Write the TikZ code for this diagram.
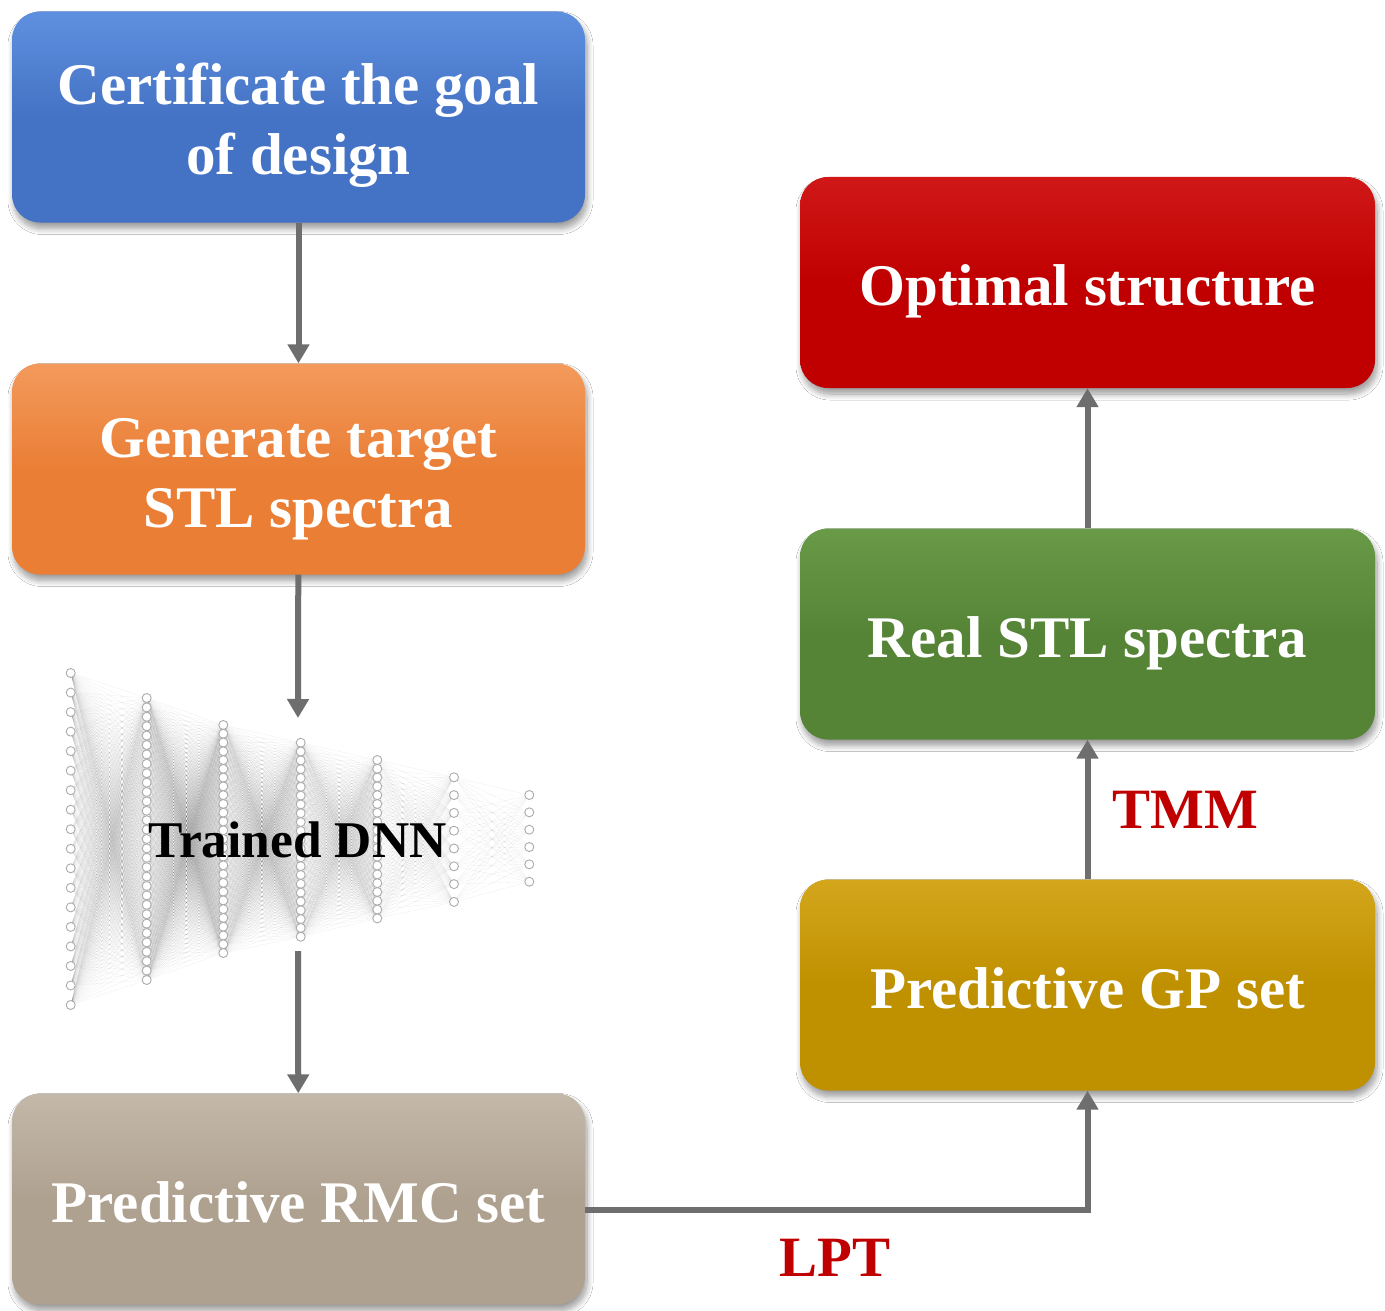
\documentclass[tikz,border=0pt]{standalone}
\usepackage{fontspec}
\setmainfont{Liberation Serif}
\usetikzlibrary{arrows.meta,shadows.blur}
\definecolor{arrgray}{HTML}{6E6E6E}
\definecolor{lblred}{HTML}{C00000}
\definecolor{blueT}{HTML}{5F90E0}\definecolor{blueB}{HTML}{4472C4}
\definecolor{orgT}{HTML}{F39A5C}\definecolor{orgB}{HTML}{EA7E35}
\definecolor{tauT}{HTML}{C3B8A9}\definecolor{tauB}{HTML}{AFA190}
\definecolor{redT}{HTML}{D01818}\definecolor{redB}{HTML}{C00000}
\definecolor{grnT}{HTML}{699A47}\definecolor{grnB}{HTML}{558436}
\definecolor{gldT}{HTML}{D4A61C}\definecolor{gldB}{HTML}{BF9000}
\newcommand{\boxtext}[1]{\raisebox{-9pt}[\height][\depth]{\begin{tabular}{@{}c@{}}#1\end{tabular}}}
\tikzset{
  box/.style={rounded corners=28pt, text=white,
    font=\fontsize{59}{70}\selectfont\bfseries, inner sep=0pt,
    blur shadow={shadow xshift=2pt, shadow yshift=-6pt, shadow blur radius=6pt, shadow blur steps=10, shadow opacity=40}},
  boxcol/.style 2 args={top color=#1, bottom color=#2, middle color=#2},
  leftbox/.style={box, minimum width=573pt, minimum height=211pt},
  rightbox/.style={box, minimum width=575pt, minimum height=211pt},
  arr/.style={draw=arrgray, line width=6pt, -{Triangle[width=21pt,length=19pt]}},
  flowlbl/.style={text=lblred, font=\fontsize{57}{60}\selectfont\bfseries},
  nnedge/.style={draw=black, opacity=0.07, line width=0.3pt},
  neuron/.style={circle, draw=gray!65, fill=white, line width=0.9pt, minimum size=9pt, inner sep=0pt}
}
\begin{document}
\begin{tikzpicture}[x=1pt,y=-1pt]
\useasboundingbox[fill=white] (0,0) rectangle (1385,1311);

% ---- neural network picture ----
\foreach \L/\x/\n/\t/\s in {1/70.7/18/673/19.53, 2/146.7/31/698/9.4, 3/223.3/27/725/8.77,
    4/300.7/23/742.7/8.82, 5/377.3/19/760/8.8, 6/454/8/777.3/17.8, 7/529.3/6/795/17.34}{
  \foreach \i in {1,...,\n}{
    \coordinate (n-\L-\i) at ({\x},{\t+(\i-1)*\s});
  }
}
\foreach \a/\na/\b/\nb in {1/18/2/31, 2/31/3/27, 3/27/4/23, 4/23/5/19, 5/19/6/8, 6/8/7/6}{
  \foreach \i in {1,...,\na}{
    \foreach \j in {1,...,\nb}{
      \draw[nnedge] (n-\a-\i) -- (n-\b-\j);
    }
  }
}
\foreach \L/\n in {1/18,2/31,3/27,4/23,5/19,6/8,7/6}{
  \foreach \i in {1,...,\n}{
    \node[neuron] (c-\L-\i) at (n-\L-\i) {};
  }
}
\node[font=\fontsize{51.5}{55}\selectfont\bfseries, text=black] (dnn) at (297.5,840) {Trained DNN};
\coordinate (dnnin) at (298,718);
\coordinate (dnnout) at (298,951);

% ---- boxes ----
\node[leftbox, boxcol={blueT}{blueB}] (goal) at (298.5,117) {\boxtext{Certificate the goal\\of design}};
\node[leftbox, boxcol={orgT}{orgB}] (gen) at (298.5,469) {\boxtext{Generate target\\STL spectra}};
\node[leftbox, boxcol={tauT}{tauB}] (rmc) at (298.5,1199) {\boxtext{Predictive RMC set}};
\node[rightbox, boxcol={redT}{redB}] (opt) at (1087.5,282.5) {\boxtext{Optimal structure}};
\node[rightbox, boxcol={grnT}{grnB}] (real) at (1087.5,634) {\boxtext{Real STL spectra}};
\node[rightbox, boxcol={gldT}{gldB}] (gp) at (1087.5,985) {\boxtext{Predictive GP set}};

% ---- connectors ----
\draw[arr] (goal) -- (gen);
\draw[arr] (gen) -- (dnnin);
\draw[arr] (dnnout) -- (rmc);
\draw[arr] ([yshift=-11pt]rmc.east) -| (gp.south);
\draw[arr] (gp) -- (real);
\draw[arr] (real) -- (opt);

% ---- labels ----
\node[flowlbl] (tmm) at (1185,810) {TMM};
\node[flowlbl] (lpt) at (835,1258) {LPT};
\end{tikzpicture}
\end{document}
